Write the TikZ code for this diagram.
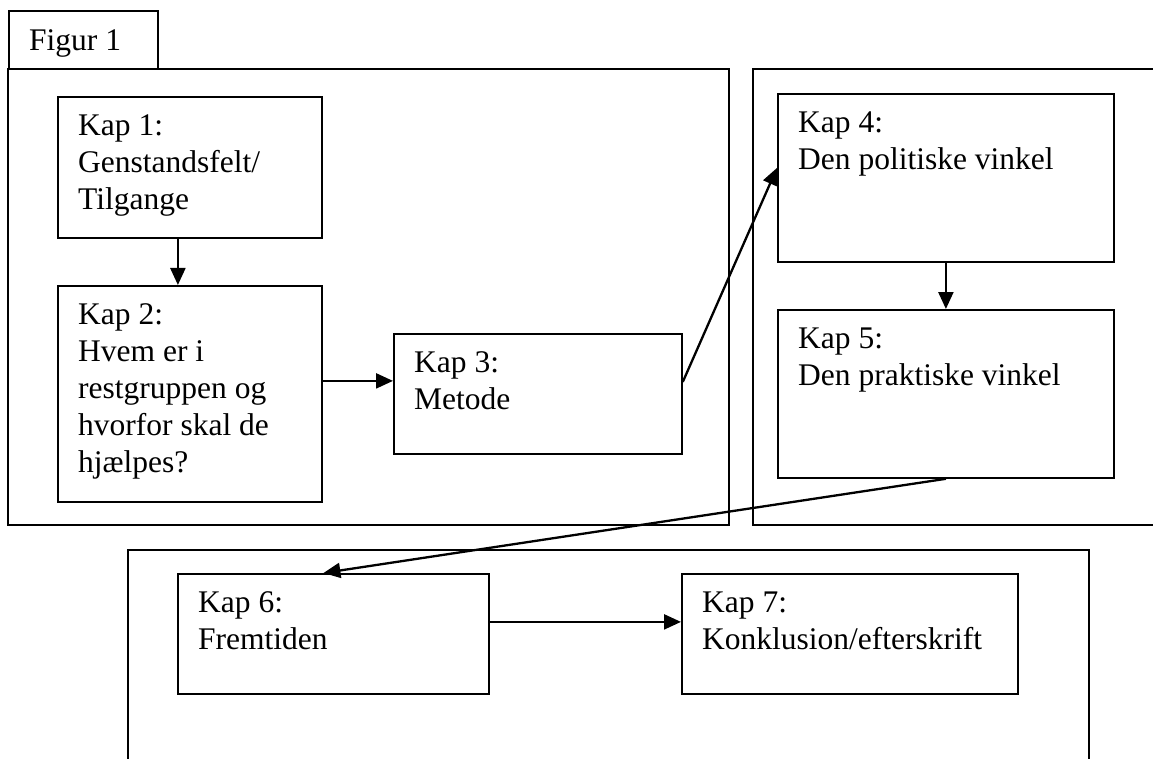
\documentclass[tikz,border=0pt]{standalone}
\usepackage{fontspec}
\setmainfont{Liberation Serif}
\usetikzlibrary{arrows.meta, positioning}

\begin{document}
\begin{tikzpicture}[x=1pt, y=-1pt,
    kapbox/.style={draw, line width=1.8pt, anchor=north west, inner sep=0pt},
    kaptxt/.style={anchor=north west, align=left, inner sep=0pt, font=\fontsize{31.5}{37}\selectfont},
    pil/.style={line width=2.3pt, -{Triangle[length=17pt, width=15pt]}}]
    \clip (0,0) rectangle (1153,759);
    % rammer
    \draw[line width=1.8pt] (8,69) rectangle (729,525);
    \draw[line width=1.8pt] (753,69) rectangle (1175,525);
    \draw[line width=1.8pt] (128,550) rectangle (1089,790);
    % kasser
    \node[kapbox, minimum width=149pt, minimum height=58pt] (fig) at (8,10) {};
    \node[kapbox, minimum width=264pt, minimum height=141pt] (k1) at (57,96) {};
    \node[kapbox, minimum width=264pt, minimum height=216pt] (k2) at (57,285) {};
    \node[kapbox, minimum width=288pt, minimum height=120pt] (k3) at (393,333) {};
    \node[kapbox, minimum width=336pt, minimum height=168pt] (k4) at (777,93) {};
    \node[kapbox, minimum width=336pt, minimum height=168pt] (k5) at (777,309) {};
    \node[kapbox, minimum width=311pt, minimum height=120pt] (k6) at (177,573) {};
    \node[kapbox, minimum width=336pt, minimum height=120pt] (k7) at (681,573) {};
    % tekst
    \node[kaptxt] (tfig) at ([shift={(21pt,-14pt)}]fig.north west) {\strut Figur 1};
    \node[kaptxt] (t1) at ([shift={(21pt,-13pt)}]k1.north west) {\strut Kap 1:\\Genstandsfelt/\\Tilgange};
    \node[kaptxt] (t2) at ([shift={(21pt,-13pt)}]k2.north west) {\strut Kap 2:\\Hvem er i\\restgruppen og\\hvorfor skal de\\hjælpes?};
    \node[kaptxt] (t3) at ([shift={(21pt,-13pt)}]k3.north west) {\strut Kap 3:\\Metode};
    \node[kaptxt] (t4) at ([shift={(21pt,-13pt)}]k4.north west) {\strut Kap 4:\\Den politiske vinkel};
    \node[kaptxt] (t5) at ([shift={(21pt,-13pt)}]k5.north west) {\strut Kap 5:\\Den praktiske vinkel};
    \node[kaptxt] (t6) at ([shift={(21pt,-13pt)}]k6.north west) {\strut Kap 6:\\Fremtiden};
    \node[kaptxt] (t7) at ([shift={(21pt,-13pt)}]k7.north west) {\strut Kap 7:\\Konklusion/efterskrift};
    % pile
    \draw[pil] ([xshift=-12pt]k1.south) -- ([xshift=-12pt]k2.north);
    \draw[pil] ([yshift=13pt]k2.east) -- ([yshift=13pt]k3.west);
    \draw[pil] ([yshift=12pt]k3.east) -- ([yshift=10pt]k4.west);
    \draw[pil] (k4.south) -- (k5.north);
    \draw[pil] (k5.south) -- ([xshift=-10pt]k6.north);
    \draw[pil] ([yshift=12pt]k6.east) -- ([yshift=12pt]k7.west);
\end{tikzpicture}
\end{document}
